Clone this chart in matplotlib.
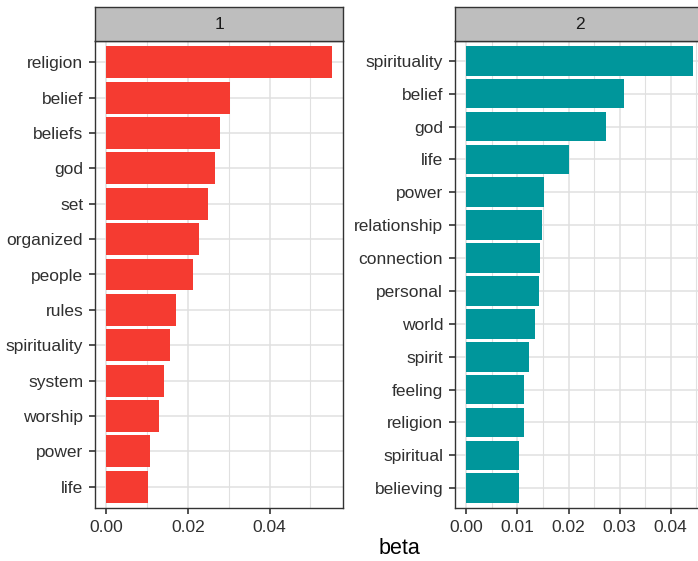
import numpy as np
import matplotlib.pyplot as plt
from matplotlib.ticker import MultipleLocator

plt.rcParams['font.family'] = ['Liberation Sans', 'DejaVu Sans']

# Topic 1 top terms (top to bottom)
terms_1 = ['religion', 'belief', 'beliefs', 'god', 'set', 'organized', 'people',
           'rules', 'spirituality', 'system', 'worship', 'power', 'life']
beta_1 = [0.0552, 0.0304, 0.0279, 0.0267, 0.0248, 0.0226, 0.0212,
          0.0170, 0.0155, 0.0141, 0.0128, 0.0106, 0.0102]

# Topic 2 top terms (top to bottom)
terms_2 = ['spirituality', 'belief', 'god', 'life', 'power', 'relationship',
           'connection', 'personal', 'world', 'spirit', 'feeling', 'religion',
           'spiritual', 'believing']
beta_2 = [0.0443, 0.0308, 0.0274, 0.0200, 0.0153, 0.0149,
          0.0144, 0.0142, 0.0135, 0.0122, 0.0113, 0.0112,
          0.0104, 0.0103]

topics = ['1', '2']

RED = '#F53B31'
TEAL = '#00969B'
GRID = '#E0E0E0'
FRAME = '#333333'
TEXT = '#303030'

fig = plt.figure(figsize=(6.98, 5.61), dpi=100)

W, H = 698.0, 561.0
panel_top, panel_bot = 41, 508
strip_top = 7


def draw_panel(x0, x1, terms, values, color, major, minor, label):
    ax = fig.add_axes([x0 / W, (H - panel_bot) / H, (x1 - x0) / W,
                       (panel_bot - panel_top) / H])
    n = len(terms)
    y = np.arange(n)[::-1]
    ax.barh(y, values, height=0.9, color=color, zorder=3)
    vmax = max(values)
    ax.set_xlim(-0.05 * vmax, 1.05 * vmax)
    ax.set_ylim(-0.6, n - 0.4)
    ax.set_yticks(y)
    ax.set_yticklabels(terms)
    ax.xaxis.set_major_locator(MultipleLocator(major))
    ax.xaxis.set_minor_locator(MultipleLocator(minor))
    ax.xaxis.set_major_formatter(plt.FuncFormatter(lambda v, p: f'{v:.2f}'))
    ax.grid(which='major', color=GRID, lw=1.1, zorder=0)
    ax.grid(which='minor', axis='x', color=GRID, lw=0.8, zorder=0)
    ax.set_axisbelow(True)
    ax.tick_params(axis='both', which='major', length=4, width=1.2,
                   color=FRAME, labelsize=12.5, labelcolor=TEXT)
    ax.tick_params(axis='x', pad=5)
    ax.tick_params(axis='y', pad=4.5)
    ax.tick_params(which='minor', length=0)
    for s in ax.spines.values():
        s.set_color(FRAME)
        s.set_linewidth(1.0)

    # facet strip
    st = fig.add_axes([x0 / W, (H - panel_top) / H, (x1 - x0) / W,
                       (panel_top - strip_top) / H])
    st.set_facecolor('#BEBEBE')
    st.set_xticks([])
    st.set_yticks([])
    for s in st.spines.values():
        s.set_color(FRAME)
        s.set_linewidth(1.0)
    st.text(0.5, 0.48, label, ha='center', va='center', fontsize=12.5,
            color='#1A1A1A', transform=st.transAxes)
    return ax


draw_panel(95, 343, terms_1, beta_1, RED, 0.02, 0.01, topics[0])
draw_panel(455, 704, terms_2, beta_2, TEAL, 0.01, 0.005, topics[1])

fig.text(399 / W, (H - 549) / H, 'beta', ha='center', va='center',
         fontsize=15.5, color='black')

fig.savefig('out.png', dpi=100)
